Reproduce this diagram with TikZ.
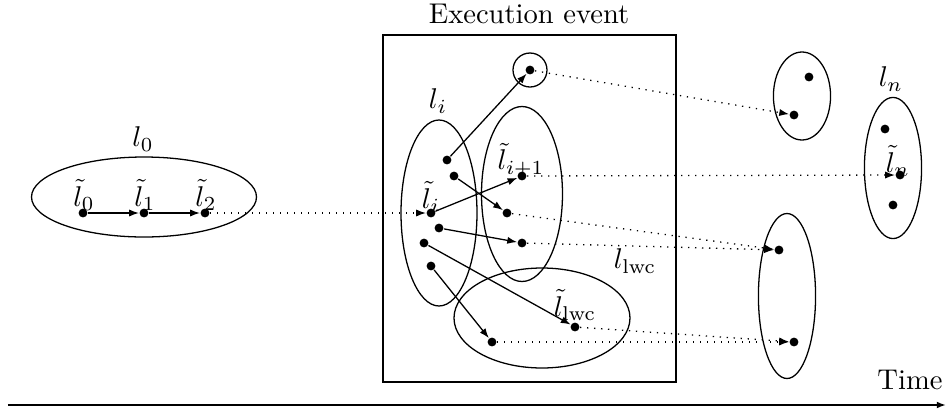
\documentclass[tikz,border=0pt]{standalone}
\usepackage{tikz}
\usetikzlibrary{shapes.geometric}
\usetikzlibrary{arrows.meta}

\begin{document}
\begin{tikzpicture}[x=0.35pt, y=-0.35pt, semithin/.style={line width=0.45pt}, semithin,
	dot/.style={circle,fill,inner sep=0pt,minimum size=3.1pt},
	set/.style={ellipse,draw,inner sep=0pt},
	flow/.style={-{Latex[length=3.4pt,width=2.5pt]}},
	link/.style={dotted,-{Latex[length=3.4pt,width=2.5pt]}}]
	\useasboundingbox (0,0) rectangle (948,409);
	% the sets
	\node[set, minimum width=78.75pt, minimum height=28pt] (L0) at (144,197) {};
	\node[set, minimum width=26.6pt, minimum height=65.1pt] (Li) at (439,213) {};
	\node[set, minimum width=28.35pt, minimum height=61.25pt] (Li1) at (522,194) {};
	\node[set, minimum width=61.6pt, minimum height=35pt] (Lw) at (542,318) {};
	\node[circle, draw, inner sep=0pt, minimum size=11.9pt] (C) at (530,70) {};
	\node[set, minimum width=20pt, minimum height=30.8pt] (R1) at (802,96) {};
	\node[set, minimum width=20pt, minimum height=49.4pt] (Ln) at (893,168) {};
	\node[set, minimum width=20pt, minimum height=57.75pt] (R2) at (787,296) {};
	\draw (383,35) rectangle (676,382);
	% the events
	\node[dot] (t0) at (83,213) {};
	\node[dot] (t1) at (144,213) {};
	\node[dot] (t2) at (205,213) {};
	\node[dot] (c0) at (530,70) {};
	\node[dot] (a1) at (447,160) {};
	\node[dot] (a2) at (454,176) {};
	\node[dot] (ti) at (431,213) {};
	\node[dot] (a4) at (439,228) {};
	\node[dot] (a5) at (424,243) {};
	\node[dot] (a6) at (431,266) {};
	\node[dot] (ti1) at (522,176) {};
	\node[dot] (b2) at (507,213) {};
	\node[dot] (b3) at (522,243) {};
	\node[dot] (tw) at (575,327) {};
	\node[dot] (w2) at (492,342) {};
	\node[dot] (r1) at (809,77) {};
	\node[dot] (r2) at (794,115) {};
	\node[dot] (n1) at (885,129) {};
	\node[dot] (tn) at (900,175) {};
	\node[dot] (n3) at (893,205) {};
	\node[dot] (s1) at (779,250) {};
	\node[dot] (s2) at (794,342) {};
	% labels
	\node (title) at (529,14) {Execution event};
	\node (time) at (910,380) {Time};
	\node (lab L0) at (143,139) {$l_0$};
	\node (lab t0) at (84,195) {$\tilde{l}_0$};
	\node (lab t1) at (145,195) {$\tilde{l}_1$};
	\node (lab t2) at (206,195) {$\tilde{l}_2$};
	\node (lab Li) at (438,101) {$l_i$};
	\node (lab ti) at (431,197) {$\tilde{l}_i$};
	\node (lab ti1) at (521,160) {$\tilde{l}_{i+1}$};
	\node (lab Lw) at (635,261) {$l_{\mathrm{lwc}}$};
	\node (lab tw) at (575,305) {$\tilde{l}_{\mathrm{lwc}}$};
	\node (lab Ln) at (891,79) {$l_n$};
	\node (lab tn) at (898,161) {$\tilde{l}_n$};
	% connectors
	\path[flow]
	(t0) edge (t1)
	(t1) edge (t2)
	(a1) edge (c0)
	(a2) edge (b2)
	(ti) edge (ti1)
	(a4) edge (b3)
	(a5) edge (tw)
	(a6) edge (w2);
	\path[link]
	(t2) edge (ti)
	(c0) edge (r2)
	(ti1) edge (tn)
	(b2) edge (s1)
	(b3) edge (s1)
	(tw) edge (s2)
	(w2) edge (s2);
	% time axis
	\coordinate (T0) at (8,405);
	\coordinate (T1) at (946,405);
	\draw[line width=0.65pt,-{Latex[length=3.2pt,width=2.4pt]}] (T0) -- (T1);
\end{tikzpicture}
\end{document}
